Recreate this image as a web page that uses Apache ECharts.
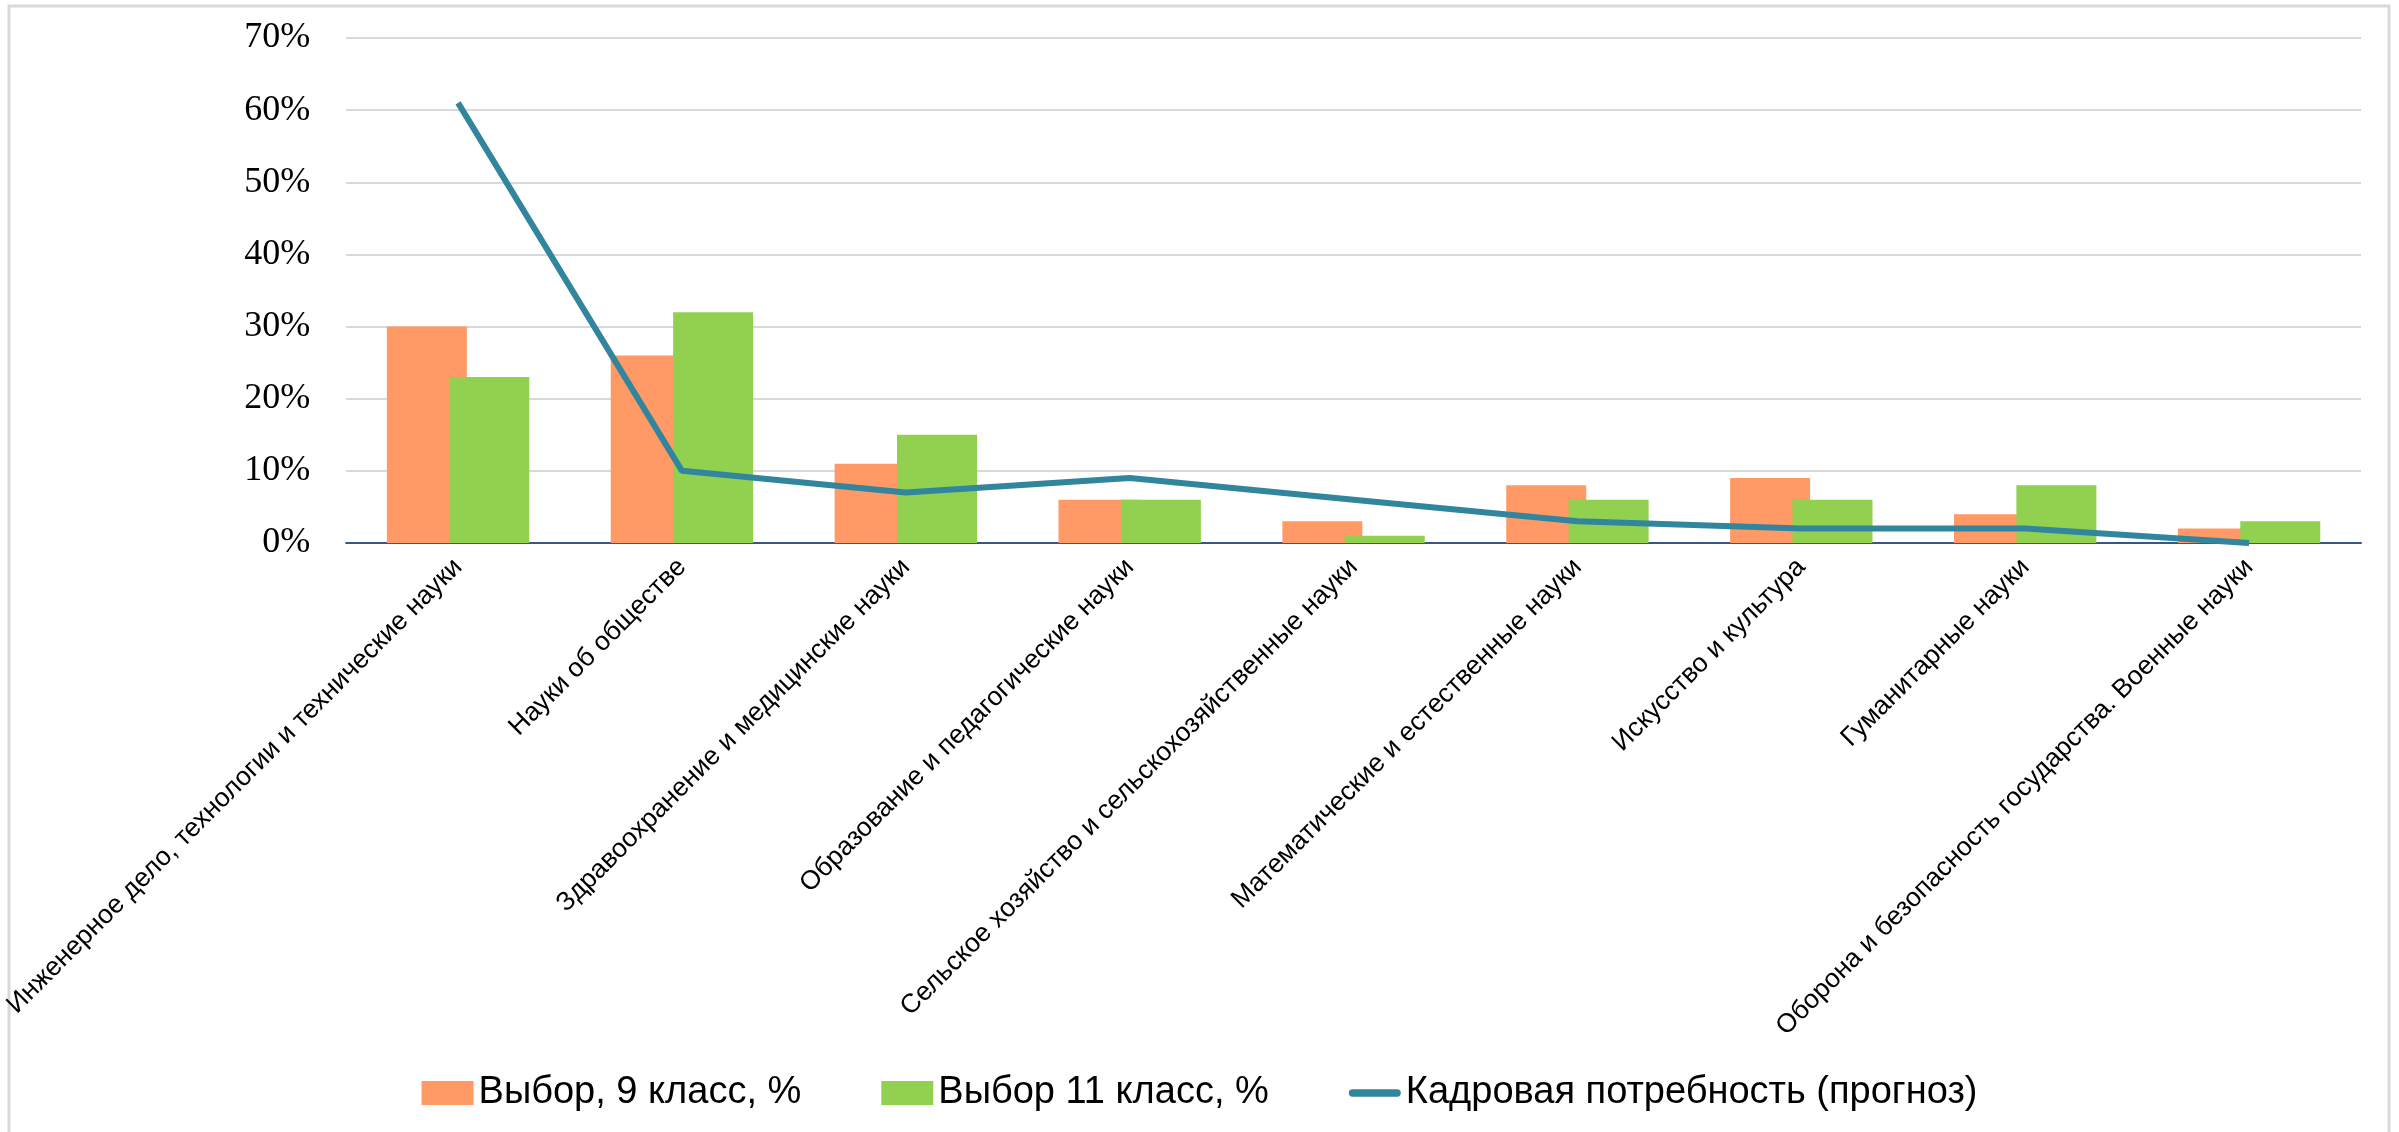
<!DOCTYPE html>
<html>
<head>
<meta charset="utf-8">
<script src="https://cdn.jsdelivr.net/npm/echarts@6/dist/echarts.min.js"></script>
<style>
html,body{margin:0;padding:0;background:#fff;}
#chart{width:2399px;height:1132px;}
</style>
</head>
<body>
<div id="chart"></div>
<script>
const categories = [
  'Инженерное дело, технологии и технические науки',
  'Науки об обществе',
  'Здравоохранение и медицинские науки',
  'Образование и педагогические науки',
  'Сельское хозяйство и сельскохозяйственные науки',
  'Математические и естественные науки',
  'Искусство и культура',
  'Гуманитарные науки',
  'Оборона и безопасность государства. Военные науки'
];
const seriesNames = ['Выбор, 9 класс, %', 'Выбор 11 класс, %', 'Кадровая потребность (прогноз)'];
const grade9 = [30, 26, 11, 6, 3, 8, 9, 4, 2];
const grade11 = [23, 32, 15, 6, 1, 6, 6, 8, 3];
const demand = [61, 10, 7, 9, 6, 3, 2, 2, 0];
const yTicks = [0, 10, 20, 30, 40, 50, 60, 70];

const chart = echarts.init(document.getElementById('chart'));
chart.setOption({
  backgroundColor: '#fff',
  animation: false,
  graphic: [{
    type: 'rect',
    shape: {x: 9, y: 6, width: 2380, height: 1135},
    style: {fill: 'none', stroke: '#D9D9D9', lineWidth: 3},
    silent: true
  }],
  grid: {left: 346, right: 38, top: 38, bottom: 589, containLabel: false},
  legend: {
    left: 'center',
    top: 1069,
    itemWidth: 52,
    itemHeight: 24,
    itemGap: 80,
    symbolKeepAspect: true,
    textStyle: {fontFamily: 'Liberation Sans', fontSize: 38, color: '#000'},
    data: [
      {name: seriesNames[0], icon: 'rect'},
      {name: seriesNames[1], icon: 'rect'},
      {name: seriesNames[2], icon: 'path://M4,0 L52,0 A4,4 0 0 1 52,8 L4,8 A4,4 0 0 1 4,0 Z', symbolKeepAspect: true}
    ]
  },
  xAxis: {
    type: 'category',
    data: categories,
    axisTick: {show: false},
    axisLine: {lineStyle: {color: '#3B5585', width: 2}},
    axisLabel: {
      interval: 0,
      rotate: 45,
      margin: 20,
      fontFamily: 'Liberation Sans',
      fontSize: 26.5,
      color: '#000'
    }
  },
  yAxis: {
    type: 'value',
    min: yTicks[0],
    max: yTicks[yTicks.length - 1],
    interval: 10,
    axisLine: {show: false},
    axisTick: {show: false},
    splitLine: {lineStyle: {color: '#D9D9D9', width: 2}},
    axisLabel: {
      formatter: '{value}%',
      margin: 36,
      fontFamily: 'Liberation Serif',
      fontSize: 36,
      color: '#000'
    }
  },
  series: [
    {
      name: seriesNames[0],
      type: 'bar',
      data: grade9,
      barWidth: 80,
      barGap: '-22%',
      itemStyle: {color: '#FF9966'}
    },
    {
      name: seriesNames[1],
      type: 'bar',
      data: grade11,
      barWidth: 80,
      barGap: '-22%',
      itemStyle: {color: '#92D050'}
    },
    {
      name: seriesNames[2],
      type: 'line',
      data: demand,
      showSymbol: false,
      symbol: 'none',
      lineStyle: {color: '#31859C', width: 6},
      itemStyle: {color: '#31859C'},
      z: 5
    }
  ]
});
</script>
</body>
</html>
